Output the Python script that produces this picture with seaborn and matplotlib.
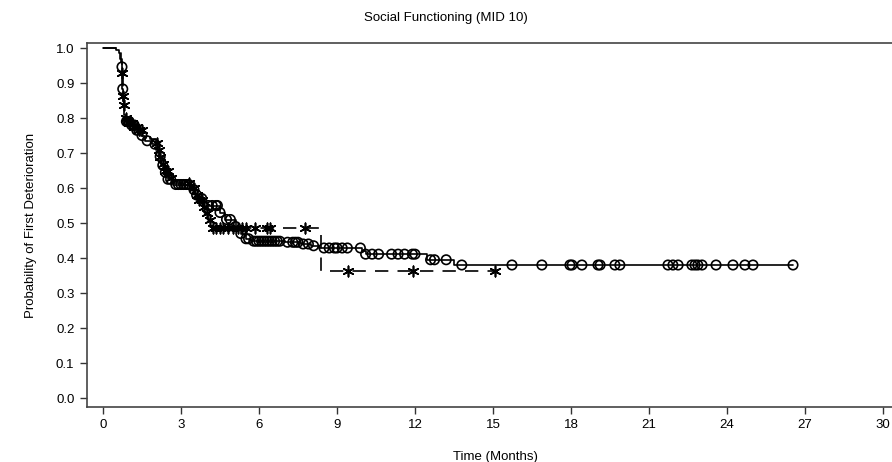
import numpy as np
import pandas as pd
import matplotlib
matplotlib.use("Agg")
import matplotlib.pyplot as plt
import seaborn as sns

# ---- data ----
# Arm A: solid line, circle censor marks
a_times = [0, 0.5, 0.6, 0.65, 0.72, 0.745, 0.78, 0.82, 0.88, 1.05, 1.25, 1.45, 1.6, 1.9, 2.05,
           2.15, 2.25, 2.35, 2.5, 2.7, 3.35, 3.55, 3.7, 3.85, 4.0, 4.5, 4.7, 5.1, 5.3,
           5.5, 5.7, 7.0, 7.6, 8.0, 8.3, 9.95, 10.1, 12.46, 13.5]
a_surv = [1.0, 0.995, 0.985, 0.97, 0.946, 0.883, 0.85, 0.81, 0.79, 0.78, 0.765, 0.75, 0.735, 0.725, 0.71,
          0.69, 0.665, 0.645, 0.625, 0.61, 0.595, 0.58, 0.57, 0.56, 0.55, 0.53, 0.51, 0.49, 0.47,
          0.455, 0.448, 0.445, 0.44, 0.435, 0.4286, 0.421, 0.411, 0.395, 0.38]
a_end = 26.54
a_cens = [0.73, 0.76, 0.9, 0.95, 1.0, 1.1, 1.2, 1.3, 1.5, 1.7, 2.0, 2.2, 2.3, 2.4, 2.5, 2.6, 2.8,
          2.9, 3.0, 3.1, 3.2, 3.3, 3.5, 3.6, 3.8, 4.05, 4.2, 4.35, 4.4, 4.5, 4.75, 4.9, 5.1, 5.3,
          5.5, 5.6, 5.8, 5.9, 6.0, 6.1, 6.2, 6.3, 6.4, 6.5, 6.6, 6.7, 6.8, 7.1, 7.3, 7.4, 7.5,
          7.7, 7.9, 8.1, 8.5, 8.7, 8.9, 9.0, 9.2, 9.4, 9.9, 10.1, 10.35, 10.6, 11.1, 11.35, 11.6,
          11.9, 12.0, 12.6, 12.75, 13.2, 13.8, 15.73, 16.88, 17.96, 18.04, 18.42, 19.04, 19.12,
          19.69, 19.88, 21.73, 21.92, 22.12, 22.65, 22.77, 22.88, 23.04, 23.58, 24.23, 24.69,
          25.0, 26.54]

# Arm B: dashed line, asterisk censor marks
b_times = [0, 0.5, 0.6, 0.68, 0.72, 0.765, 0.79, 0.84, 0.95, 1.15, 1.35, 1.55, 1.8, 2.05, 2.12,
           2.2, 2.3, 2.4, 2.55, 2.7, 3.35, 3.55, 3.7, 3.85, 3.95, 4.05, 4.2]
b_surv = [1.0, 0.995, 0.985, 0.96, 0.928, 0.863, 0.837, 0.80, 0.785, 0.775, 0.765, 0.75, 0.74, 0.73, 0.71,
          0.69, 0.67, 0.65, 0.63, 0.615, 0.60, 0.58, 0.565, 0.545, 0.53, 0.51, 0.486]
b_drop_t = 8.38
b_drop_s = 0.363
b_end = 15.08
b_cens = [0.73, 0.77, 0.8, 0.9, 1.0, 1.1, 1.2, 1.3, 1.4, 1.5, 2.07, 2.15, 2.2, 2.3, 2.4, 2.5,
          2.6, 3.3, 3.5, 3.6, 3.7, 3.8, 3.9, 4.0, 4.1, 4.25, 4.35, 4.5, 4.6, 4.8, 5.0, 5.2,
          5.35, 5.5, 5.85, 6.3, 6.42, 7.77, 9.42, 11.92, 15.08]

x_ticks = [0, 3, 6, 9, 12, 15, 18, 21, 24, 27, 30]
y_ticks = [0.0, 0.1, 0.2, 0.3, 0.4, 0.5, 0.6, 0.7, 0.8, 0.9, 1.0]
title = "Social Functioning (MID 10)"
xlabel = "Time (Months)"
ylabel = "Probability of First Deterioration"

sns.set_theme(style="white")
plt.rcParams["font.family"] = ["Liberation Sans", "DejaVu Sans"]


def step_frame(times, surv, end):
    t = list(times) + [end]
    s = list(surv) + [surv[-1]]
    return pd.DataFrame({"t": t, "s": s})


def surv_at(times, surv, q):
    times = np.asarray(times)
    surv = np.asarray(surv)
    idx = np.searchsorted(times, np.asarray(q), side="right") - 1
    return surv[idx]


df_a = step_frame(a_times, a_surv, a_end)
b_t_all = b_times + [b_drop_t]
b_s_all = b_surv + [b_drop_s]
df_b = step_frame(b_t_all, b_s_all, b_end)
ca = pd.DataFrame({"t": a_cens, "s": surv_at(a_times, a_surv, a_cens)})
cb = pd.DataFrame({"t": b_cens, "s": surv_at(b_t_all, b_s_all, b_cens)})

fig = plt.figure(figsize=(8.92, 4.62), dpi=100)
ax = fig.add_axes([87 / 892, 55 / 462, 816 / 892, 364 / 462])

sns.lineplot(data=df_a, x="t", y="s", ax=ax, drawstyle="steps-post", color="black",
             linewidth=1.2, estimator=None, sort=False)
sns.lineplot(data=df_b, x="t", y="s", ax=ax, drawstyle="steps-post", color="black",
             linewidth=1.2, estimator=None, sort=False, linestyle=(0, (8, 5.5)))
sns.scatterplot(data=ca, x="t", y="s", ax=ax, marker="o", s=46, facecolors="none",
                edgecolors="black", linewidths=1.2, zorder=3)
sns.scatterplot(data=cb, x="t", y="s", ax=ax, marker=(6, 2, 0), s=56, color="black",
                linewidths=1.2, zorder=3)

ax.set_xlim(-0.615, 30.77)
ax.set_ylim(-0.0257, 1.0143)
ax.set_xticks(x_ticks)
ax.set_yticks(y_ticks)
ax.set_xticklabels([str(v) for v in x_ticks])
ax.set_yticklabels([f"{v:.1f}" for v in y_ticks])
ax.tick_params(axis="both", which="both", direction="out", length=5, width=1,
               colors="#333333", labelsize=9.5, labelcolor="black", pad=4,
               bottom=True, left=True, top=False, right=False)
for sp in ax.spines.values():
    sp.set_color("#444444")
    sp.set_linewidth(1.2)
ax.set_xlabel(xlabel, fontsize=9.5, labelpad=14, color="black")
ax.set_ylabel(ylabel, fontsize=9.5, labelpad=14, color="black")
fig.text(0.5, 1 - 18 / 462, title, ha="center", va="center", fontsize=9.5, color="black")

fig.savefig("out.png", dpi=100)
